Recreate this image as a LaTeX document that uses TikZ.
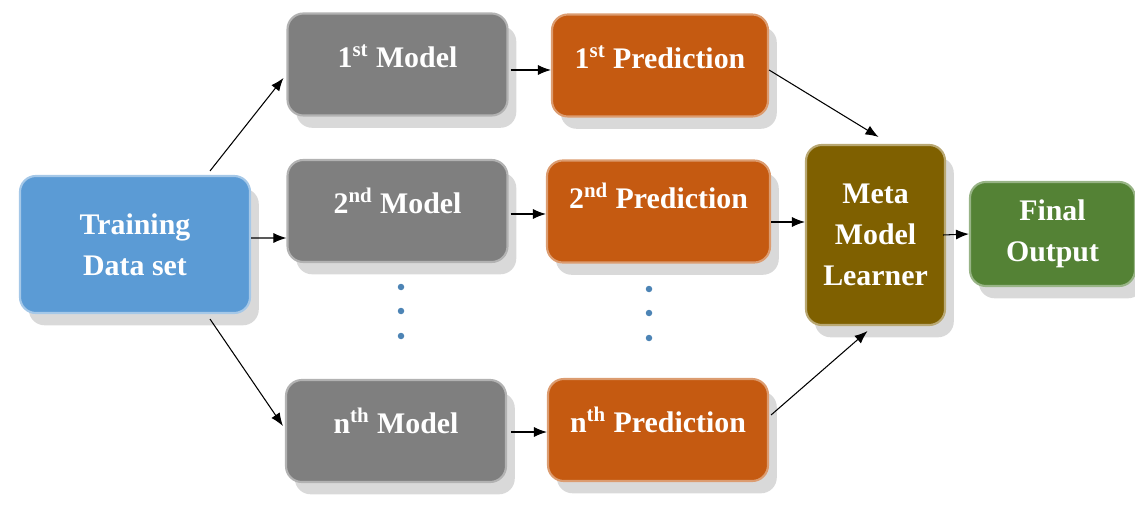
\documentclass[tikz,border=0pt]{standalone}
\usepackage{fontspec}
\setmainfont{Liberation Serif}
\usetikzlibrary{calc, shadows, arrows.meta}

\definecolor{trainblue}{HTML}{5B9BD5}
\definecolor{modelgray}{HTML}{7F7F7F}
\definecolor{predorange}{HTML}{C55A11}
\definecolor{metabrown}{HTML}{7F6000}
\definecolor{outgreen}{HTML}{548235}

\begin{document}
\begin{tikzpicture}[
        box/.style = {
            rounded corners=9pt,
            line width=1.2pt,
            text=white,
            font=\fontsize{17}{23.5}\selectfont\bfseries,
            align=center,
            drop shadow={shadow xshift=5pt, shadow yshift=-7pt, fill=black, opacity=0.15}
        },
        stagebox/.style = {
            box,
            minimum width=4.4cm,
            minimum height=2.04cm,
            text height=12pt,
            text depth=9pt
        },
        arr/.style = {
            -{Latex[length=2.6mm, width=2mm]},
            line width=0.6pt
        }]
        \useasboundingbox (0,0) rectangle (22.7,-10.14);
        % input
        \node[box, fill=trainblue, draw=trainblue!55!white, minimum width=4.6cm, minimum height=2.74cm]
            (train) at (2.7,-4.89) {Training\\Data set};
        % base models
        \node[stagebox, fill=modelgray, draw=modelgray!60!white] (m1) at (7.95,-1.29) {1\textsuperscript{st} Model};
        \node[stagebox, fill=modelgray, draw=modelgray!60!white] (m2) at (7.95,-4.22) {2\textsuperscript{nd} Model};
        \node[stagebox, fill=modelgray, draw=modelgray!60!white] (m3) at (7.92,-8.62) {n\textsuperscript{th} Model};
        % predictions
        \node[stagebox, fill=predorange, draw=predorange!60!white, minimum width=4.32cm] (p1) at (13.2,-1.31) {1\textsuperscript{st} Prediction};
        \node[stagebox, fill=predorange, draw=predorange!60!white, minimum width=4.46cm, text depth=15pt] (p2) at (13.17,-4.23) {2\textsuperscript{nd} Prediction};
        \node[stagebox, fill=predorange, draw=predorange!60!white, minimum width=4.4cm] (p3) at (13.16,-8.6) {n\textsuperscript{th} Prediction};
        % meta learner and output
        \node[box, fill=metabrown, draw=metabrown!55!white, minimum width=2.78cm, minimum height=3.6cm]
            (meta) at (17.51,-4.7) {Meta\\Model\\Learner};
        \node[box, fill=outgreen, draw=outgreen!60!white, minimum width=3.3cm, minimum height=2.08cm]
            (final) at (21.05,-4.68) {Final\\Output};
        % dots
        \foreach \y in {5.74, 6.22, 6.72} {
            \fill[trainblue!85!black] (8.02,-\y) circle (0.065);
            \fill[trainblue!85!black] (12.98,-\y-0.04) circle (0.065);
        }
        % arrows
        \draw[arr] ($(train.north)+(1.5,0.08)$) -- ($(m1.west)+(-0.06,-0.27)$);
        \draw[arr] ($(train.east)+(0,0.13)$) -- ($(m2.west)+(0,-0.54)$);
        \draw[arr] ($(train.south)+(1.5,-0.1)$) -- ($(m3.west)+(-0.04,0.1)$);
        \draw[arr] ($(m1.east)+(0.04,-0.11)$) -- ($(p1.west)+(0,-0.09)$);
        \draw[arr] ($(m2.east)+(0.04,-0.06)$) -- ($(p2.west)+(0,-0.05)$);
        \draw[arr] ($(m3.east)+(0.08,-0.02)$) -- ($(p3.west)+(0,-0.04)$);
        \draw[arr] ($(p1.east)+(0,-0.09)$) -- ($(meta.north)+(0.06,0.14)$);
        \draw[arr] ($(p2.east)+(0,-0.21)$) -- ($(meta.west)+(0,0.26)$);
        \draw[arr] ($(p3.east)+(0.04,0.3)$) -- ($(meta.south)+(-0.16,-0.1)$);
        \draw[arr] ($(meta.east)+(-0.06,0)$) -- (final.west);
    \end{tikzpicture}
\end{document}
